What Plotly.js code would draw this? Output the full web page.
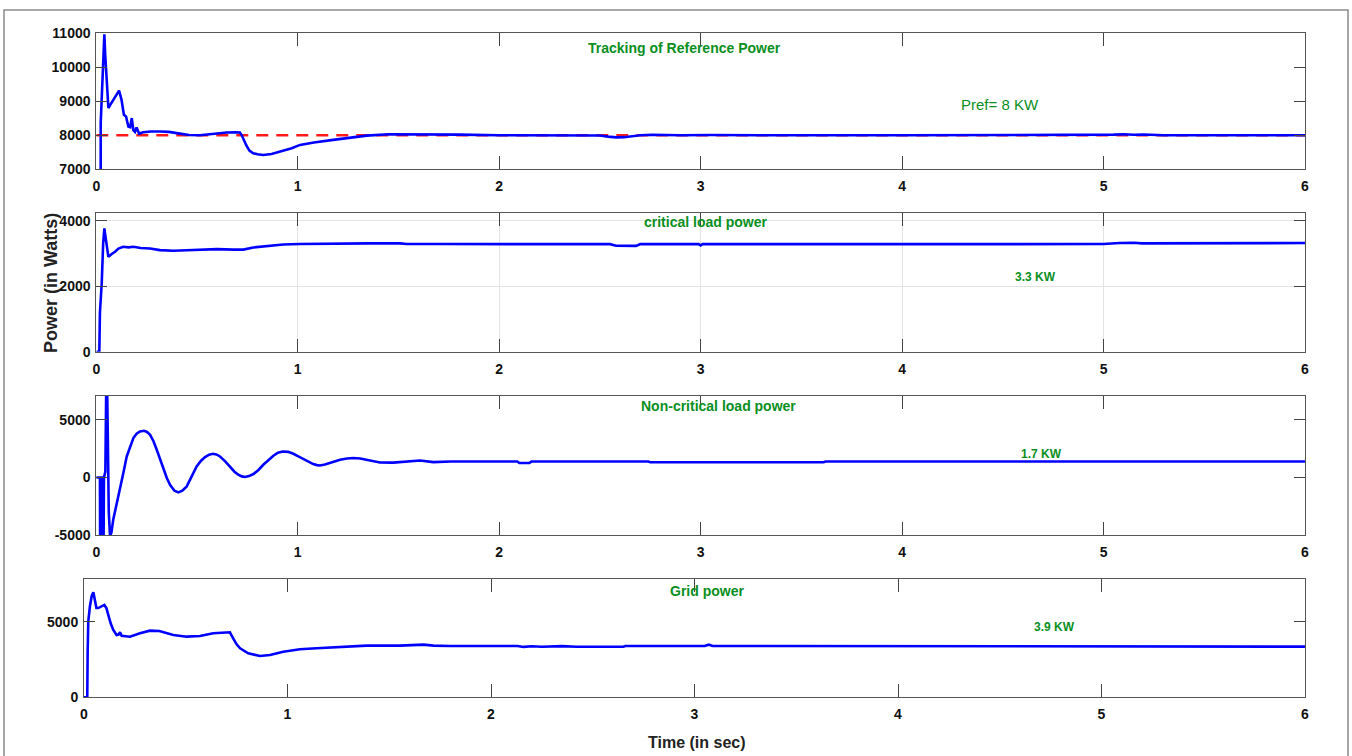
<!DOCTYPE html>
<html>
<head>
<meta charset="utf-8">
<script src="https://cdn.plot.ly/plotly-3.0.1.min.js"></script>
<style>html,body{margin:0;padding:0;background:#fff;}#chart{width:1352px;height:756px;}</style>
</head>
<body>
<div id="chart"></div>
<script>
// ---- Data ----
// Panel 1: tracking of reference power
const t1 = [0, 0.021, 0.022, 0.030, 0.040, 0.044, 0.048, 0.054, 0.060, 0.070, 0.085, 0.100, 0.113, 0.125, 0.137, 0.148, 0.159, 0.168, 0.176, 0.184, 0.192, 0.200, 0.212, 0.233, 0.270, 0.316, 0.360, 0.415, 0.460, 0.515, 0.580, 0.647, 0.690, 0.713, 0.722, 0.730, 0.745, 0.760, 0.779, 0.800, 0.829, 0.870, 0.928, 0.970, 1.011, 1.080, 1.176, 1.260, 1.342, 1.450, 1.600, 1.800, 2.000, 2.500, 2.540, 2.580, 2.620, 2.660, 2.700, 2.760, 2.800, 2.900, 3.050, 3.150, 3.200, 3.300, 4.000, 4.300, 4.330, 4.400, 5.000, 5.050, 5.100, 5.150, 5.200, 5.250, 5.300, 6.000];
const p1 = [0, 0, 8370, 9800, 10970, 10400, 9984, 9300, 8802, 8900, 9047, 9200, 9313, 9050, 8604, 8550, 8260, 8240, 8507, 8150, 8100, 8230, 8050, 8090, 8110, 8112, 8100, 8050, 8010, 8000, 8040, 8082, 8085, 8082, 8000, 7880, 7700, 7550, 7472, 7440, 7422, 7450, 7540, 7620, 7718, 7790, 7866, 7920, 7990, 8030, 8030, 8020, 8000, 7995, 7960, 7940, 7945, 7970, 8000, 8015, 8010, 8000, 8010, 8000, 8005, 8000, 8000, 8000, 8010, 8000, 8000, 8020, 8030, 8015, 8025, 8005, 8000, 8000];
const tRef = [0, 6];
const pRef = [8000, 8000];

// Panel 2: critical load power
const t2 = [0, 0.015, 0.018, 0.027, 0.034, 0.040, 0.046, 0.053, 0.060, 0.075, 0.093, 0.110, 0.134, 0.160, 0.184, 0.220, 0.267, 0.316, 0.382, 0.449, 0.515, 0.598, 0.680, 0.730, 0.779, 0.846, 0.928, 1.011, 1.100, 1.176, 1.350, 1.508, 1.541, 1.700, 2.000, 2.550, 2.580, 2.680, 2.700, 2.990, 3.000, 3.010, 3.500, 4.000, 5.000, 5.080, 5.150, 5.190, 5.300, 5.500, 5.600, 5.700, 5.800, 6.000];
const p2 = [0, 0, 1200, 2100, 3300, 3767, 3500, 3100, 2900, 2980, 3053, 3150, 3206, 3190, 3206, 3170, 3156, 3105, 3084, 3100, 3120, 3135, 3120, 3120, 3186, 3237, 3278, 3290, 3300, 3308, 3310, 3310, 3290, 3290, 3290, 3288, 3240, 3235, 3288, 3288, 3250, 3288, 3288, 3290, 3290, 3320, 3330, 3310, 3310, 3330, 3320, 3330, 3330, 3320];

// Panel 3: non-critical load power
const t3 = [0, 0.018, 0.019, 0.022, 0.023, 0.030, 0.032, 0.036, 0.038, 0.045, 0.050, 0.053, 0.056, 0.062, 0.068, 0.075, 0.084, 0.100, 0.118, 0.135, 0.151, 0.168, 0.184, 0.200, 0.217, 0.237, 0.252, 0.267, 0.284, 0.300, 0.317, 0.333, 0.350, 0.366, 0.388, 0.407, 0.427, 0.449, 0.474, 0.498, 0.520, 0.540, 0.560, 0.578, 0.596, 0.614, 0.640, 0.664, 0.686, 0.705, 0.722, 0.738, 0.758, 0.780, 0.805, 0.829, 0.855, 0.879, 0.902, 0.925, 0.952, 0.978, 1.003, 1.028, 1.053, 1.077, 1.095, 1.110, 1.135, 1.160, 1.185, 1.210, 1.245, 1.276, 1.310, 1.342, 1.375, 1.408, 1.474, 1.540, 1.607, 1.673, 1.760, 2.090, 2.100, 2.150, 2.160, 2.740, 2.750, 3.610, 3.620, 6.000];
const p3 = [0, 0, -6000, -6000, 0, 0, -6000, -6000, 0, 500, 9000, 9000, 5000, -3000, -5050, -4800, -3672, -2450, -1068, 450, 1823, 2750, 3420, 3800, 3993, 4050, 3950, 3706, 3150, 2404, 1500, 668, -50, -634, -1150, -1302, -1150, -781, 50, 955, 1450, 1771, 1980, 2057, 2000, 1823, 1400, 903, 500, 234, 90, 35, 120, 295, 650, 1102, 1550, 1884, 2150, 2257, 2220, 2057, 1830, 1597, 1360, 1163, 1070, 1042, 1120, 1250, 1400, 1536, 1640, 1684, 1640, 1536, 1400, 1300, 1290, 1389, 1476, 1331, 1389, 1389, 1250, 1250, 1389, 1389, 1320, 1320, 1389, 1389];

// Panel 4: grid power
const t4 = [0, 0.016, 0.018, 0.021, 0.029, 0.038, 0.046, 0.052, 0.061, 0.070, 0.087, 0.100, 0.110, 0.122, 0.131, 0.144, 0.160, 0.170, 0.177, 0.185, 0.210, 0.226, 0.275, 0.324, 0.370, 0.439, 0.505, 0.570, 0.635, 0.717, 0.733, 0.750, 0.767, 0.807, 0.865, 0.914, 0.979, 1.061, 1.143, 1.225, 1.307, 1.389, 1.553, 1.635, 1.668, 1.717, 1.799, 2.130, 2.160, 2.200, 2.250, 2.350, 2.420, 2.650, 2.660, 3.050, 3.070, 3.090, 5.200, 5.210, 6.000];
const p4 = [0, 0, 3000, 5000, 6000, 6700, 6945, 6436, 5900, 5900, 6000, 6105, 5900, 5225, 4894, 4450, 4121, 4150, 4300, 4060, 4000, 4008, 4230, 4405, 4380, 4121, 4008, 4054, 4233, 4299, 3902, 3500, 3241, 2910, 2732, 2798, 3016, 3175, 3241, 3307, 3393, 3415, 3415, 3460, 3480, 3415, 3393, 3393, 3330, 3370, 3340, 3380, 3340, 3340, 3393, 3393, 3480, 3393, 3393, 3349, 3349];

// Tick values and labels
const xTicks = [0, 1, 2, 3, 4, 5, 6];
const xTickText = ["0", "1", "2", "3", "4", "5", "6"];
const y1Ticks = [7000, 8000, 9000, 10000, 11000];
const y1Text = ["7000", "8000", "9000", "10000", "11000"];
const y2Ticks = [0, 2000, 4000];
const y2Text = ["0", "2000", "4000"];
const y3Ticks = [-5000, 0, 5000];
const y3Text = ["-5000", "0", "5000"];
const y4Ticks = [0, 5000];
const y4Text = ["0", "5000"];

// ---- Layout helpers ----
const W = 1352, H = 756;
const px = v => v / W;
const py = v => 1 - v / H;
const FONT = "Liberation Sans Narrow, Arial Narrow, Liberation Sans, Arial, sans-serif";
const GREEN = "#0a8f1e";
const tickFont = {family: FONT, size: 14, color: "#111", weight: "bold"};

function xAx(domain, anchor, grid) {
  return {domain: domain, anchor: anchor, range: [0, 6], tickvals: xTicks, ticktext: xTickText, ticks: "inside", ticklen: 13,
    tickcolor: "#444", tickwidth: 1, showline: true, linecolor: "#555", linewidth: 1, mirror: "ticks",
    showgrid: !!grid, gridcolor: "#e3e3e3", zeroline: false, tickfont: tickFont, ticklabelstandoff: 4, fixedrange: true};
}
function yAx(domain, anchor, range, vals, text, grid) {
  return {domain: domain, anchor: anchor, range: range, tickvals: vals, ticktext: text, ticks: "inside", ticklen: 11,
    tickcolor: "#444", tickwidth: 1, showline: true, linecolor: "#555", linewidth: 1, mirror: "ticks",
    showgrid: !!grid, gridcolor: "#e3e3e3", zeroline: false, tickfont: tickFont, ticklabelstandoff: 2, fixedrange: true};
}

const blue = {color: "#0000ff", width: 2.6};
const traces = [
  {x: tRef, y: pRef, xaxis: "x", yaxis: "y", mode: "lines", line: {color: "#ff1a1a", width: 2.6, dash: "12px,8px"}},
  {x: t1, y: p1, xaxis: "x", yaxis: "y", mode: "lines", line: blue},
  {x: t2, y: p2, xaxis: "x2", yaxis: "y2", mode: "lines", line: blue},
  {x: t3, y: p3, xaxis: "x3", yaxis: "y3", mode: "lines", line: blue},
  {x: t4, y: p4, xaxis: "x4", yaxis: "y4", mode: "lines", line: blue}
];

const dMain = [px(96.3), px(1305)];
const layout = {
  width: W, height: H, margin: {l: 0, r: 0, t: 0, b: 0},
  paper_bgcolor: "#fff", plot_bgcolor: "#fff", showlegend: false,
  xaxis: xAx(dMain, "y"),
  yaxis: yAx([py(169.3), py(33.3)], "x", [7000, 11000], y1Ticks, y1Text),
  xaxis2: xAx(dMain, "y2", true),
  yaxis2: yAx([py(351.7), py(213.3)], "x2", [0, 4230], y2Ticks, y2Text, true),
  xaxis3: xAx(dMain, "y3"),
  yaxis3: yAx([py(535), py(395.7)], "x3", [-5000, 7100], y3Ticks, y3Text),
  xaxis4: xAx([px(84), px(1305)], "y4"),
  yaxis4: yAx([py(697.3), py(579)], "x4", [0, 7820], y4Ticks, y4Text),
  shapes: [
    {type: "rect", xref: "paper", yref: "paper", x0: px(4), x1: px(1348), y0: -0.05, y1: py(10),
     line: {color: "#8a8a8a", width: 1.5}, fillcolor: "rgba(0,0,0,0)", layer: "below"}
  ],
  annotations: [
    {text: "Tracking of Reference Power", x: px(684), y: py(48), font: {family: FONT, size: 14, color: GREEN, weight: "bold"}},
    {text: "Pref= 8 KW", x: px(1000), y: py(104), font: {family: FONT, size: 15, color: GREEN}},
    {text: "critical load power", x: px(706), y: py(222), font: {family: FONT, size: 14, color: GREEN, weight: "bold"}},
    {text: "3.3 KW", x: px(1035), y: py(277), font: {family: FONT, size: 12, color: GREEN, weight: "bold"}},
    {text: "Non-critical load power", x: px(718), y: py(406), font: {family: FONT, size: 14, color: GREEN, weight: "bold"}},
    {text: "1.7 KW", x: px(1041), y: py(454), font: {family: FONT, size: 12, color: GREEN, weight: "bold"}},
    {text: "Grid power", x: px(707), y: py(591), font: {family: FONT, size: 14, color: GREEN, weight: "bold"}},
    {text: "3.9 KW", x: px(1054), y: py(627), font: {family: FONT, size: 12, color: GREEN, weight: "bold"}},
    {text: "Time (in sec)", x: px(697), y: py(742), font: {family: FONT, size: 16, color: "#222", weight: "bold"}},
    {text: "Power (in Watts)", x: px(51), y: py(283), textangle: -90, font: {family: "Liberation Sans, Arial, sans-serif", size: 18, color: "#222", weight: "bold"}}
  ].map(a => Object.assign({xref: "paper", yref: "paper", showarrow: false, xanchor: "center", yanchor: "middle"}, a))
};

Plotly.newPlot("chart", traces, layout, {staticPlot: true, displayModeBar: false});
</script>
</body>
</html>
